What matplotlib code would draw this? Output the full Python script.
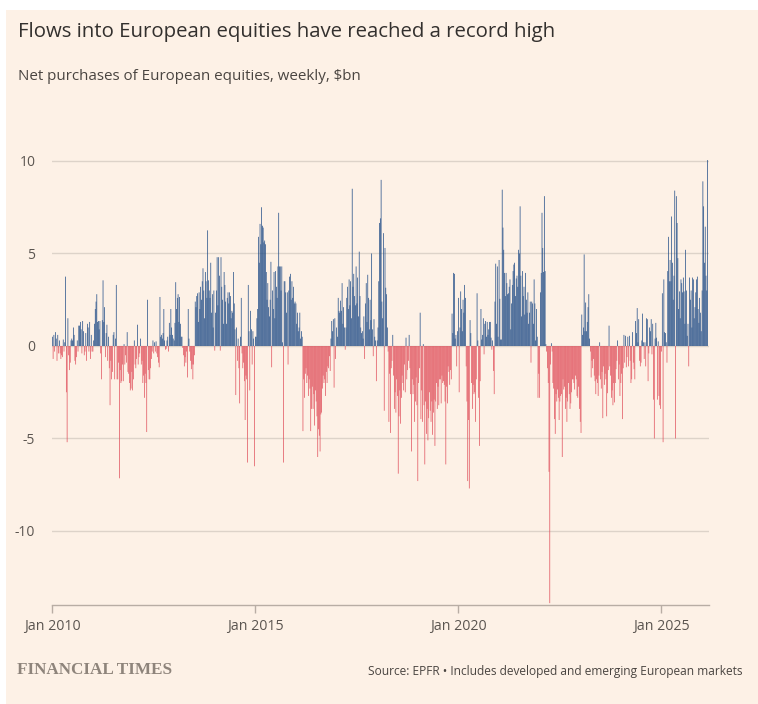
import matplotlib
matplotlib.use('Agg')
import matplotlib.pyplot as plt
from matplotlib.patches import Rectangle
import numpy as np
import pandas as pd

# weekly net purchases of European equities, $bn (one list per calendar year)
flows_2010 = [0.5, -0.7, 0.6, -0.3, 0.75, 0.4, -0.8, 0.6, -0.4, 0.3,
              -0.4, -0.7, -0.5, -0.6, 0.35, -0.3, 0.2, 3.75, -2.5, -5.2,
              1.5, -0.5, -1.3, -0.9, 0.3, 0.4, 0.3, 1.0, 0.6, -0.8,
              -1.0, -0.6, 0.3, -0.3, 1.1, 1.1, 1.3, 0.9, -0.4, 1.35,
              0.8, -0.5, -0.3, 0.7, -0.8, 1.2, 1.0, -0.3, 1.3, -0.7,
              0.6, -0.3]
flows_2011 = [-0.3, 0.3, 1.2, 2.0, 2.4, 2.8, 1.3, 1.35, 0.9, 1.35,
              -0.4, -1.8, 1.4, 3.55, 1.3, 2.1, -0.6, 0.7, 1.15, -0.8,
              0.5, -1.2, -3.2, -0.8, -1.8, -1.4, 0.6, 0.75, -1.8, 0.4,
              3.3, -1.8, -1.8, -0.9, -7.15, -1.3, -2.0, -1.9, -1.0, -1.9,
              0.1, -1.0, -0.5, -0.9, 0.75, -1.4, -1.5, -2.0, -2.4, -2.3,
              -1.4, -2.4]
flows_2012 = [-1.8, 0.3, -1.0, -1.2, -0.7, 1.15, -1.0, -0.6, -0.4, 0.4,
              -1.0, -0.8, -2.0, -1.6, -2.8, -1.5, -2.0, -4.65, 2.5, -1.3,
              -1.8, -1.8, -1.2, -0.7, -0.3, 0.3, -0.4, 0.2, -0.3, 0.25,
              -0.4, -0.6, -0.9, -1.15, 2.65, 0.5, 0.6, 0.4, 0.7, 2.0,
              0.3, -0.2, -0.15, 0.3, 0.5, -0.3, 1.25, 0.6, 2.0, 1.0,
              0.6, 0.4]
flows_2013 = [0.3, 1.25, 3.45, 2.0, 2.6, 2.8, 1.3, 2.65, 1.2, 0.5,
              0.5, -0.1, -0.5, -1.1, -0.6, -0.9, -0.3, -1.7, 2.0, 0.4,
              -0.3, -0.8, -1.25, -1.0, -1.8, -1.0, -0.5, 2.4, 2.1, 2.7,
              2.85, 1.3, 2.9, 2.0, 3.2, 2.5, 3.5, 4.2, 3.0, 1.5,
              4.0, 3.5, 2.6, 6.25, 3.55, 3.0, 2.6, 4.5, 1.8, 2.8,
              1.0, 3.0]
flows_2014 = [-0.25, 1.8, 3.0, 4.8, 2.2, 4.8, 3.8, -0.25, 4.8, 3.2,
              2.5, 1.2, 4.0, 3.3, 2.4, 1.2, 2.6, 2.9, 2.3, 2.9,
              2.7, 1.5, 1.9, 1.8, 4.0, 2.3, 0.9, -2.65, 1.0, -0.8,
              0.4, -1.2, -3.1, 0.5, 2.6, -0.4, -1.2, -0.9, -1.9, -4.0,
              -1.6, -1.8, -6.3, 3.3, 0.8, -2.4, 1.9, 0.9, -1.0, 0.8,
              0.4, -6.5]
flows_2015 = [0.5, 0.5, 1.5, 2.0, 5.9, 4.5, 6.6, 5.5, 7.5, 6.5,
              6.4, 5.6, 5.7, 5.5, 4.0, 2.5, 3.4, 2.1, 1.6, 2.5,
              4.55, -1.15, 3.0, 2.0, 4.0, 1.5, 4.05, 3.2, 2.6, 4.3,
              7.2, 4.3, 4.3, 3.0, 4.3, 0.2, -6.3, 3.5, 3.5, 2.9,
              1.8, 2.9, -1.0, 3.0, 3.75, 3.9, 2.5, 3.5, 2.6, 3.2,
              2.3, 2.4]
flows_2016 = [2.3, 1.2, 1.8, 0.8, 1.0, 1.8, 0.4, 0.8, 0.5, -4.6,
              -1.8, -2.8, -1.5, -1.2, -2.0, -1.6, -2.7, -1.8, -2.3, -4.6,
              -3.4, -2.2, -3.4, -2.6, -4.3, -2.4, -3.0, -3.8, -6.0, -4.5,
              -4.85, -5.7, -3.7, -3.6, -2.3, -1.6, -2.0, -1.8, -2.7, -1.4,
              -2.0, -1.1, -1.2, -0.55, -1.35, 0.4, 1.35, 0.8, 1.45, -2.25,
              1.5, -0.7]
flows_2017 = [1.0, 0.5, 2.6, 1.9, 1.8, 2.45, 1.9, 3.4, 1.2, 2.1,
              1.0, -0.2, 1.0, 2.6, 3.2, 2.0, 3.6, 2.2, 3.5, 1.5,
              8.5, 3.2, 3.9, 2.7, 2.2, 4.3, 2.3, 3.7, 1.6, 5.1,
              2.7, 1.0, 0.7, 0.8, 0.4, 1.6, -0.7, 2.3, 3.4, 1.3,
              3.85, 2.6, 0.9, 2.5, 1.4, 5.0, 0.9, -0.55, 1.45, 0.5,
              0.3, -1.9]
flows_2018 = [0.3, 1.0, 3.5, 6.65, 6.9, 8.98, 2.4, 1.5, 6.1, -3.5,
              5.3, 3.15, 2.8, 1.0, -0.3, -4.1, -1.5, -4.7, -1.2, -0.8,
              0.6, -1.6, -3.4, -2.5, -3.6, -1.8, -2.7, -6.9, -3.8, -2.4,
              -4.2, -2.8, -1.6, -2.0, -2.4, -1.0, -2.5, 0.45, -1.8, -1.3,
              -0.8, 0.6, -1.2, -2.6, -5.7, -1.8, -2.6, -2.1, -4.1, -3.0,
              -1.7, -3.2]
flows_2019 = [-7.3, -2.0, -1.2, 1.8, -3.95, -2.4, -4.1, 0.1, -3.2, -6.4,
              -3.0, -4.75, -3.4, -5.1, -3.9, -2.5, -3.5, -4.1, -3.0, -4.8,
              -3.6, -2.9, -5.4, -3.0, -2.0, -3.4, -2.2, -3.2, -1.8, -1.8,
              -3.1, -1.6, -2.0, -1.9, -2.1, -3.0, -6.4, -2.2, -3.1, -1.1,
              -1.4, -2.1, -1.3, -1.8, 1.75, 0.7, 3.95, 3.9, 0.4, 0.6,
              -1.1, 0.8]
flows_2020 = [2.6, -2.5, 1.0, 2.95, 2.0, 0.8, 2.5, 1.8, 3.3, 2.6,
              -1.1, -3.0, -7.3, -4.0, -7.7, 1.4, 0.7, -2.0, -3.4, -2.1,
              -2.6, -2.5, -4.1, -1.8, 2.85, 0.3, -2.8, -5.4, -1.9, 2.0,
              0.35, 0.6, 1.5, -0.45, 1.2, 1.35, 0.5, 1.3, 0.6, 0.9,
              1.3, 1.3, 0.45, -0.2, 0.3, -1.35, -2.6, 2.4, 4.45, 1.2,
              4.3, 0.5]
flows_2021 = [4.65, 2.55, 0.35, 0.35, 8.45, 6.4, 5.2, 3.95, 2.7, 3.95,
              3.4, 2.8, 2.85, 3.2, 3.6, 0.9, 2.3, 3.3, 4.05, 4.4,
              4.5, 2.7, 3.65, 3.8, 3.2, 5.2, 5.0, 7.55, 3.8, 1.6,
              4.05, 2.7, 3.2, 1.7, 3.95, 2.5, 1.8, 2.9, 1.2, 1.8,
              2.4, -0.9, 2.4, 2.3, 1.2, 3.6, 2.3, 0.3, 2.0, 0.5,
              -2.8, -1.5]
flows_2022 = [-2.8, 2.9, 3.95, 7.2, 5.3, 4.0, 8.1, 4.05, 0.1, -0.3,
              -1.2, -2.0, -6.8, -13.9, -1.0, 0.15, -0.3, -2.0, -2.3, -3.95,
              -4.75, -2.6, -3.0, -2.35, -2.8, -4.0, -3.0, -2.7, -2.6, -6.0,
              -1.8, -2.35, -2.2, -3.4, -2.8, -4.1, -3.0, -2.0, -2.6, -3.4,
              -3.1, -2.5, -1.8, -1.8, -2.0, -2.35, -1.6, -1.8, -2.7, -2.8,
              -2.2, -3.4]
flows_2023 = [-4.1, -4.7, 1.7, 0.6, 1.0, 4.95, 0.8, 2.35, 0.8, 1.3,
              2.1, 2.8, 0.4, -0.3, -1.7, -0.8, -1.2, -0.7, -1.6, -1.9,
              -2.6, -1.8, -2.0, -2.7, -1.6, 0.2, -1.8, -2.3, -1.4, -3.9,
              -1.1, -2.1, -1.5, -1.8, -3.8, -2.55, -1.3, 1.1, -1.1, -1.6,
              -2.8, -2.4, -3.2, -2.0, -3.05, -2.0, -1.25, -0.8, 0.3, -1.8,
              -1.0, -2.7]
flows_2024 = [-2.0, -1.5, -3.95, -1.2, 0.6, -0.9, 0.55, -1.15, -0.6, 0.5,
              -1.1, 0.55, -0.8, -2.0, -1.8, 0.75, -0.9, -1.25, -1.8, 1.35,
              0.7, 2.05, 0.2, 1.45, -0.8, -1.1, -0.9, 0.3, 1.75, 0.2,
              -0.7, 0.2, -1.1, 1.5, 1.45, -1.9, -0.4, 1.0, 0.8, 1.45,
              -0.45, 1.2, -2.9, -5.0, 0.4, 1.25, 0.45, -2.9, 0.25, -2.7,
              -3.2, -3.4]
flows_2025 = [-0.3, 2.85, -5.2, 3.6, 0.75, 0.7, 0.2, -0.9, 4.05, 5.9,
              3.5, 4.65, 3.5, 7.0, 4.5, 2.5, 3.8, 8.4, -5.0, 8.1,
              6.65, 4.75, 2.0, 2.95, 1.5, 3.6, 3.4, 2.9, 3.7, 2.95,
              1.2, 5.2, 3.0, 0.55, 1.2, -1.1, 3.7, 2.5, 3.0, 1.0,
              3.7, 3.6, 1.5, 2.1, 2.9, 3.6, 3.75, 2.0, 1.25, 2.6,
              1.8, 0.8]
flows_2026 = [3.0, 8.9, 7.55, 4.5, 6.45, 3.8, 3.0, 10.05]

flows_by_year = {
    2010: flows_2010, 2011: flows_2011, 2012: flows_2012, 2013: flows_2013,
    2014: flows_2014, 2015: flows_2015, 2016: flows_2016, 2017: flows_2017,
    2018: flows_2018, 2019: flows_2019, 2020: flows_2020, 2021: flows_2021,
    2022: flows_2022, 2023: flows_2023, 2024: flows_2024, 2025: flows_2025,
    2026: flows_2026,
}

y_ticks = [-10, -5, 0, 5, 10]
y_tick_labels = ['-10', '-5', '0', '5', '10']
x_tick_years = [2010, 2015, 2020, 2025]

# weekly dates, restarted at each calendar year
dates = []
values = []
for year, vals in flows_by_year.items():
    start = pd.Timestamp(f'{year}-01-01')
    dates.extend(start + pd.to_timedelta(np.arange(len(vals)) * 7 + 3, unit='D'))
    values.extend(vals)
values = np.array(values)

BG = '#fdf1e6'
BLUE = '#1d4a86'
RED = '#e04f5b'
TXT = '#33302e'
GREY = '#5b5550'

W, H = 758, 704
fig = plt.figure(figsize=(W / 100, H / 100), dpi=100)
fig.patch.set_facecolor('white')
fig.patches.append(Rectangle((6 / W, 0), 1, 1 - 10 / H, transform=fig.transFigure,
                             facecolor=BG, edgecolor='none', zorder=-10))

ax = fig.add_axes([52 / W, 1 - 605 / H, 657 / W, 481 / H])
ax.set_facecolor('none')

colors = np.where(values >= 0, BLUE, RED)
bars = ax.bar(dates, values, width=6.3, color=colors, linewidth=0, zorder=2)
for b in bars:
    b.set_snap(False)

ax.set_ylim(-14, 12)
ax.set_xlim(pd.Timestamp('2010-01-01'), pd.Timestamp('2026-03-07'))

ax.set_yticks(y_ticks)
ax.set_yticklabels(y_tick_labels)
ax.yaxis.grid(True, color='#ddd3c9', linewidth=1)
ax.set_axisbelow(True)
ax.tick_params(axis='y', length=0, pad=12, labelsize=10, labelcolor=GREY)

ax.set_xticks([pd.Timestamp(f'{y}-01-01') for y in x_tick_years])
ax.set_xticklabels([f'Jan {y}' for y in x_tick_years])
ax.tick_params(axis='x', length=6, width=1, color='#b8ada4', pad=4,
               labelsize=10.2, labelcolor=GREY)

for side in ['left', 'top', 'right']:
    ax.spines[side].set_visible(False)
ax.spines['bottom'].set_color('#b8ada4')
ax.spines['bottom'].set_linewidth(1)

for lab in ax.get_xticklabels() + ax.get_yticklabels():
    lab.set_family('Open Sans')

fig.text(18 / W, 1 - 32 / H, 'Flows into European equities have reached a record high',
         fontsize=14.7, color=TXT, family='Open Sans', va='center', ha='left')
fig.text(18 / W, 1 - 77 / H, 'Net purchases of European equities, weekly, $bn',
         fontsize=10.9, color='#4a4541', family='Open Sans', va='center', ha='left')
fig.text(17 / W, 1 - 670 / H, 'FINANCIAL TIMES', fontsize=12.3, color='#8e847b',
         family='Liberation Serif', weight='bold', va='center', ha='left')
fig.text(742 / W, 1 - 672 / H,
         'Source: EPFR \u2022 Includes developed and emerging European markets',
         fontsize=8.55, color='#4a4541', family='Open Sans', va='center', ha='right')

plt.savefig('out.png', dpi=100, facecolor=fig.get_facecolor())
